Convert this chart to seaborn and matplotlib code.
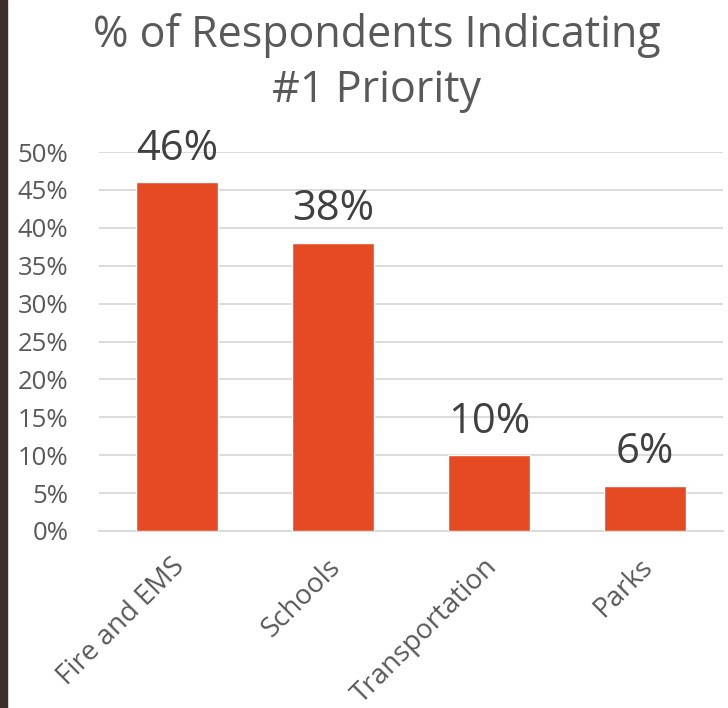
import matplotlib
matplotlib.use("Agg")
import matplotlib.pyplot as plt
import matplotlib.transforms as mtransforms
import seaborn as sns
import pandas as pd

categories = ["Fire and EMS", "Schools", "Transportation", "Parks"]
shares = [46, 38, 10, 6]
y_ticks = [0, 5, 10, 15, 20, 25, 30, 35, 40, 45, 50]
y_tick_labels = [f"{v}%" for v in y_ticks]
title = "% of Respondents Indicating\n#1 Priority"

sns.set_theme(style="white")
plt.rcParams["font.family"] = ["Open Sans", "DejaVu Sans"]

text_color = "#595959"
value_color = "#404040"
grid_color = "#d9d9d9"
bar_color = "#e64a23"

df = pd.DataFrame({"category": categories, "share": shares})

fig = plt.figure(figsize=(7.28, 7.08), dpi=100)
fig.patch.set_facecolor("white")
# dark strip along the left edge
fig.add_artist(plt.Rectangle((0, 0), 7 / 728, 1, transform=fig.transFigure,
                             color="#3b302a", zorder=0))

ax = fig.add_axes([99 / 728, 1 - 531 / 708, (723 - 99) / 728, (531 - 152) / 708])
sns.barplot(data=df, x="category", y="share", color=bar_color, width=0.53,
            saturation=1, ax=ax, zorder=3)

ax.set_ylim(0, 50)
ax.set_xlim(-0.5, len(categories) - 0.5)
ax.set_yticks(y_ticks)
ax.set_yticklabels(y_tick_labels, fontsize=18.5, color=text_color)
ax.yaxis.grid(True, color=grid_color, linewidth=1.3)
ax.set_axisbelow(True)
ax.set_xlabel("")
ax.set_ylabel("")
for side in ["left", "right", "top"]:
    ax.spines[side].set_visible(False)
ax.spines["bottom"].set_color(grid_color)
ax.spines["bottom"].set_linewidth(1.3)
ax.tick_params(axis="y", length=0, pad=22)

# category separators as minor ticks
ax.set_xticks([i - 0.5 for i in range(len(categories) + 1)], minor=True)
ax.tick_params(axis="x", which="minor", length=10, color=grid_color, width=1.3)
ax.tick_params(axis="x", which="major", length=0)
ax.set_xticks(range(len(categories)))
ax.set_xticklabels(categories, fontsize=20, color=text_color, rotation=45,
                   ha="right", va="top", rotation_mode="anchor")
offset = mtransforms.ScaledTranslation(-6 / 100, -17 / 100, fig.dpi_scale_trans)
for lbl in ax.get_xticklabels():
    lbl.set_transform(lbl.get_transform() + offset)

# value labels above the bars
for container in ax.containers:
    ax.bar_label(container, labels=[f"{v}%" for v in shares], padding=9,
                 fontsize=30, color=value_color)

fig.text(0.517, 1 - 63 / 708, title, ha="center", va="center", fontsize=31,
         color=text_color, linespacing=1.3)

fig.savefig("out.png", dpi=100, facecolor="white")
